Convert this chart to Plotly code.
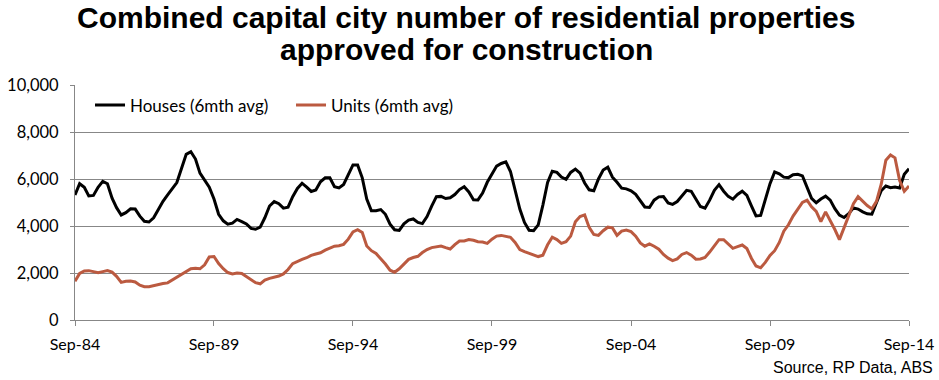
import pandas as pd
import plotly.graph_objects as go

# Bi-monthly readings, Sep-84 .. Sep-14
start_date = "1984-09-01"
houses = [5320, 5800, 5650, 5280, 5300, 5650, 5900, 5800, 5180, 4780,
          4470, 4570, 4730, 4720, 4420, 4200, 4170, 4350, 4700, 5050,
          5320, 5600, 5850, 6450, 7050, 7160, 6850, 6250, 5950, 5650,
          5150, 4500, 4220, 4080, 4120, 4280, 4190, 4090, 3900, 3860,
          3950, 4350, 4850, 5040, 4950, 4760, 4800, 5250, 5600, 5820,
          5650, 5470, 5530, 5880, 6050, 6050, 5670, 5620, 5770, 6220,
          6600, 6600, 6050, 5150, 4650, 4650, 4700, 4500, 4080, 3840,
          3810, 4090, 4250, 4300, 4150, 4100, 4400, 4850, 5250, 5260,
          5170, 5200, 5340, 5550, 5670, 5450, 5120, 5110, 5400, 5860,
          6220, 6550, 6660, 6730, 6320, 5550, 4720, 4150, 3820, 3800,
          4050, 4890, 5850, 6330, 6280, 6080, 5990, 6280, 6420, 6250,
          5830, 5540, 5500, 6000, 6380, 6500, 6080, 5860, 5610, 5580,
          5500, 5350, 5080, 4810, 4790, 5100, 5240, 5250, 4980, 4920,
          5040, 5280, 5520, 5480, 5120, 4830, 4760, 5100, 5520, 5760,
          5480, 5260, 5140, 5340, 5480, 5300, 4850, 4430, 4450, 5100,
          5800, 6300, 6220, 6080, 6060, 6180, 6200, 6130, 5620, 5180,
          4990, 5150, 5270, 5100, 4740, 4460, 4360, 4520, 4770, 4720,
          4600, 4520, 4500, 4990, 5500, 5700, 5630, 5660, 5620, 6200,
          6440]
units = [1650, 1980, 2090, 2100, 2060, 2010, 2060, 2100, 2040, 1860,
         1600, 1650, 1660, 1620, 1480, 1420, 1420, 1470, 1510, 1550,
         1580, 1700, 1830, 1950, 2070, 2180, 2200, 2180, 2350, 2680,
         2700, 2400, 2180, 2020, 1960, 2000, 1980, 1840, 1700, 1590,
         1540, 1700, 1770, 1820, 1870, 1960, 2150, 2400, 2500, 2580,
         2650, 2750, 2810, 2860, 2970, 3060, 3140, 3160, 3220, 3440,
         3750, 3840, 3720, 3150, 2950, 2830, 2620, 2380, 2120, 2030,
         2180, 2400, 2580, 2660, 2710, 2870, 3000, 3080, 3100, 3150,
         3080, 3020, 3210, 3360, 3360, 3420, 3390, 3330, 3320, 3260,
         3440, 3570, 3600, 3550, 3520, 3300, 3000, 2910, 2840, 2760,
         2700, 2760, 3200, 3520, 3420, 3260, 3330, 3570, 4180, 4400,
         4470, 3940, 3640, 3600, 3800, 3950, 3920, 3600, 3780, 3830,
         3760, 3570, 3280, 3140, 3240, 3140, 3010, 2790, 2630, 2530,
         2600, 2790, 2870, 2760, 2590, 2600, 2660, 2890, 3150, 3420,
         3420, 3250, 3050, 3120, 3190, 3040, 2620, 2300, 2220, 2450,
         2750, 2950, 3300, 3780, 4050, 4420, 4710, 5000, 5100, 4820,
         4620, 4190, 4600, 4250, 3850, 3420, 3900, 4380, 4950, 5250,
         5060, 4870, 4730, 5050, 5780, 6800, 7020, 6900, 5930, 5480,
         5700]
dates = pd.date_range(start=start_date, periods=len(houses), freq="2MS")
tick_dates = ["1984-09-01", "1989-09-01", "1994-09-01", "1999-09-01",
              "2004-09-01", "2009-09-01", "2014-09-01"]
tick_labels = ["Sep-84", "Sep-89", "Sep-94", "Sep-99", "Sep-04", "Sep-09", "Sep-14"]
y_ticks = [0, 2000, 4000, 6000, 8000, 10000]
y_labels = ["0", "2,000", "4,000", "6,000", "8,000", "10,000"]

BLACK = "#000000"
RED = "#BB5A40"
GRID = "#878787"
FONT = "Lato, Liberation Sans, sans-serif"
TFONT = "Liberation Sans, Arial, sans-serif"

fig = go.Figure()
fig.add_trace(go.Scatter(x=dates, y=houses, mode="lines", name="Houses (6mth avg)",
                         line=dict(color=BLACK, width=3)))
fig.add_trace(go.Scatter(x=dates, y=units, mode="lines", name="Units (6mth avg)",
                         line=dict(color=RED, width=3)))

fig.update_layout(
    width=939, height=380,
    margin=dict(l=75, r=30, t=85, b=60, autoexpand=False),
    paper_bgcolor="white", plot_bgcolor="white",
    showlegend=True,
    legend=dict(orientation="h", x=0.018, y=0.99, xanchor="left", yanchor="top",
                font=dict(family=FONT, size=17, color="black"),
                bgcolor="rgba(0,0,0,0)", entrywidth=156),
    xaxis=dict(type="date", range=[tick_dates[0], tick_dates[-1]],
               tickmode="array", tickvals=tick_dates, ticktext=tick_labels,
               showgrid=False, showline=True, linecolor=GRID, linewidth=1,
               ticks="outside", ticklen=5, tickcolor=GRID, automargin=False,
               ticklabelstandoff=5,
               tickfont=dict(family=FONT, size=16, color="black"), zeroline=False),
    yaxis=dict(range=[0, 10000], tickmode="array", tickvals=y_ticks, ticktext=y_labels,
               showgrid=True, gridcolor=GRID, gridwidth=1,
               showline=True, linecolor=GRID, linewidth=1, automargin=False,
               ticks="outside", ticklen=4, tickcolor=GRID, ticklabelstandoff=8,
               tickfont=dict(family=FONT, size=16.5, color="black"), zeroline=False),
    annotations=[
        dict(text="<b>Combined capital city number of residential properties</b>",
             xref="paper", yref="paper", x=0.47, y=(320 - 18) / 235,
             xanchor="center", yanchor="middle", showarrow=False,
             font=dict(family=TFONT, size=30, color="black")),
        dict(text="<b>approved for construction</b>",
             xref="paper", yref="paper", x=0.47, y=(320 - 50) / 235,
             xanchor="center", yanchor="middle", showarrow=False,
             font=dict(family=TFONT, size=30, color="black")),
        dict(text="Source, RP Data, ABS", xref="paper", yref="paper",
             x=1.0 + 26 / 834, y=(320 - 367) / 235, xanchor="right", yanchor="middle",
             showarrow=False, font=dict(family=TFONT, size=16, color="black")),
    ],
)

fig.write_html("out.html", config={"displayModeBar": False},
               post_script="document.body.style.margin='0';document.body.style.padding='0';")
